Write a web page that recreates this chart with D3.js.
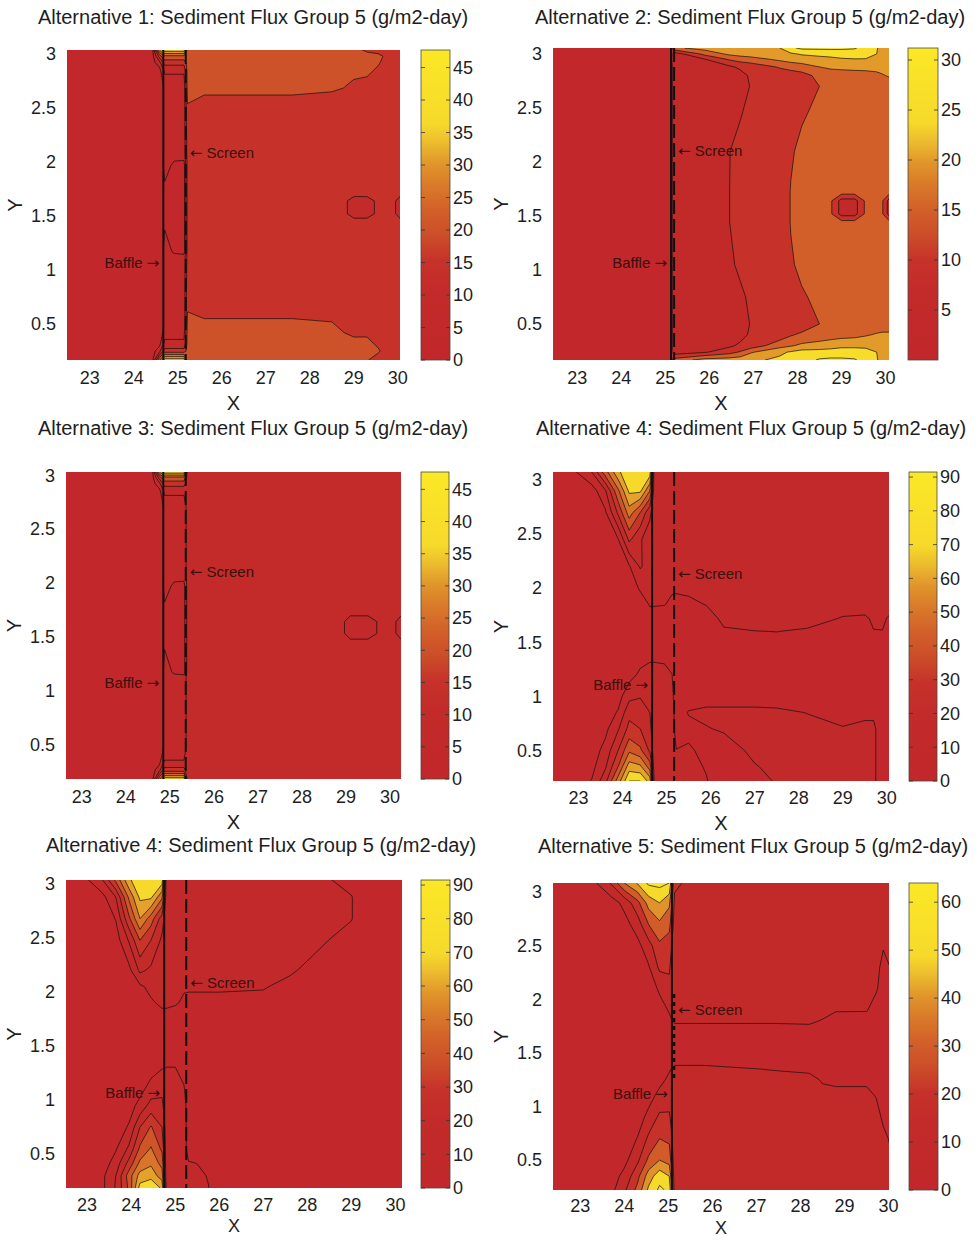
<!DOCTYPE html>
<html>
<head>
<meta charset="utf-8">
<script src="https://cdn.jsdelivr.net/npm/d3@7"></script>
<style>
body { margin: 0; background: #fff; }
svg { display: block; }
text { font-family: "Liberation Sans", Arial, sans-serif; fill: #1e1e1e; }
</style>
</head>
<body>
<svg id="fig" width="976" height="1240"></svg>
<script>
'use strict';

// ---- data: grid columns (x), rows (y, top to bottom), flux (g/m2-day) ----

const alt1X = [22.48, 24.42, 24.58, 24.65, 24.70, 24.92, 25.14, 25.22, 25.6, 27.6, 28.5, 28.78, 29.0, 29.3, 29.55, 29.75, 29.9, 30.05];
const alt1Y = [3.037, 2.98, 2.92, 2.85, 2.7, 2.5, 2.06, 1.97, 1.72, 1.64, 1.52, 1.44, 1.17, 1.12, 0.67, 0.47, 0.32, 0.25, 0.167];
const alt1Z = [
  [3, 3, 30, 36, 38, 38, 38, 22, 22, 22, 22, 22, 22, 19, 17, 17, 17, 17],
  [3, 3, 17, 22, 24, 24, 24, 22, 22, 22, 22, 22, 22, 22, 22, 18.4, 17, 17],
  [3, 3, 8, 14, 17, 17, 17, 22, 22, 22, 22, 22, 22, 22, 21, 17, 17, 17],
  [3, 3, 3, 8, 11, 11, 11, 22, 22, 22, 22, 22, 22, 22, 18.7, 17, 17, 17],
  [3, 3, 3, 3, 7, 7, 7, 22, 22, 22, 21, 20.2, 18.5, 17, 17, 17, 17, 17],
  [3, 3, 3, 3, 7, 7, 7, 19.5, 17, 17, 17, 17, 17, 17, 17, 17, 17, 17],
  [3, 3, 3, 3, 7, 7, 7, 17, 17, 17, 17, 17, 17, 17, 17, 17, 17, 17],
  [3, 3, 3, 3, 8, 3.5, 3, 17, 17, 17, 17, 17, 17, 17, 17, 17, 17, 17],
  [3, 3, 3, 3, 3, 3, 3, 17, 17, 17, 17, 17, 17, 17, 17, 17, 17, 17],
  [3, 3, 3, 3, 3, 3, 3, 17, 17, 17, 17, 16, 13, 13, 16, 17, 16, 13],
  [3, 3, 3, 3, 3, 3, 3, 17, 17, 17, 17, 16, 13, 13, 16, 17, 16, 13],
  [3, 3, 3, 3, 4, 3, 3, 17, 17, 17, 17, 17, 17, 17, 17, 17, 17, 17],
  [3, 3, 3, 3, 8, 4, 3, 17, 17, 17, 17, 17, 17, 17, 17, 17, 17, 17],
  [3, 3, 3, 3, 7, 7, 7, 17, 17, 17, 17, 17, 17, 17, 17, 17, 17, 17],
  [3, 3, 3, 3, 7, 7, 7, 19.2, 17, 17, 17, 17, 17, 17, 17, 17, 17, 17],
  [3, 3, 3, 3, 7, 7, 7, 22, 22, 22, 21, 19, 17, 17, 17, 17, 17, 17],
  [3, 3, 3, 8, 11, 11, 11, 22, 22, 22, 22, 22, 22, 22, 18.7, 17, 17, 17],
  [3, 3, 8, 14, 17, 17, 17, 22, 22, 22, 22, 22, 22, 22, 21, 17, 17, 17],
  [3, 3, 24, 30, 38, 38, 38, 22, 22, 22, 22, 22, 22, 20.5, 17, 17, 17, 17]
];

const alt2X = [22.45, 25.10, 25.22, 25.9, 26.45, 26.7, 26.95, 27.6, 27.85, 28.1, 28.5, 28.75, 29.0, 29.3, 29.55, 29.8, 29.92, 30.08];
const alt2Y = [3.055, 3.0, 2.95, 2.88, 2.8, 2.7, 2.45, 2.1, 1.72, 1.64, 1.52, 1.44, 1.05, 0.75, 0.5, 0.4, 0.3, 0.24, 0.167];
const alt2Z = [
  [3, 3, 19, 22, 22.5, 23, 23.5, 25, 29, 31, 31, 31, 31, 30.5, 28, 25.5, 23, 22],
  [3, 3, 7.5, 16.5, 21, 22, 22.5, 23.5, 24.3, 25.5, 26.5, 27, 27, 27, 26.5, 25, 23, 22],
  [3, 3, 8, 9.8, 15.5, 17, 18, 21, 22, 22.5, 23, 23.5, 24.5, 24.8, 24.8, 23.5, 22, 22],
  [3, 3, 7, 8, 9, 11, 12, 15.5, 17, 18, 20, 21, 21.5, 22, 22, 22, 22, 22],
  [3, 3, 7, 7, 7, 8, 11, 12, 12, 13, 16.5, 17, 17, 17, 17.5, 18.5, 19.5, 20.5],
  [3, 3, 7, 7, 7, 7, 10.5, 12, 12, 12, 15, 17, 17, 17, 17, 17, 17, 17],
  [3, 3, 7, 7, 7, 9.5, 12, 12, 12, 14.5, 16, 17, 17, 17, 17, 17, 17, 17],
  [3, 3, 7, 7, 9.8, 12, 12, 12, 14.5, 16, 17, 17, 17, 17, 17, 17, 17, 17],
  [3, 3, 7, 7, 9.9, 12, 12, 12, 15.2, 17, 17, 17, 17, 17, 17, 17, 17, 17],
  [3, 3, 7, 7, 9.9, 12, 12, 12, 15.2, 17, 17, 16, 8, 8, 16, 17, 16, 8],
  [3, 3, 7, 7, 9.9, 12, 12, 12, 15.2, 17, 17, 16, 8, 8, 16, 17, 16, 8],
  [3, 3, 7, 7, 9.9, 12, 12, 12, 15.2, 17, 17, 17, 17, 17, 17, 17, 17, 17],
  [3, 3, 7, 7, 9, 11, 12, 12, 14.5, 16, 17, 17, 17, 17, 17, 17, 17, 17],
  [3, 3, 7, 7, 7, 9, 11, 12, 12, 14.5, 16, 17, 17, 17, 17, 17, 17, 17],
  [3, 3, 7, 7, 7, 7, 10.5, 12, 12, 12, 15, 17, 17, 17, 17, 17, 17, 17],
  [3, 3, 7, 7, 7, 8, 11, 12, 14.5, 16, 17, 17.5, 18, 18.5, 19.5, 20.5, 21, 21],
  [3, 3, 7, 8, 9, 11, 12, 18, 19.5, 21, 22, 23, 24, 24, 24, 23, 22, 22],
  [3, 3, 7.5, 9.5, 13, 15.5, 19.5, 24, 25.5, 27, 27, 27, 27, 27, 26.5, 25, 23, 22],
  [3, 3, 17, 22, 22.5, 23, 24, 26, 27, 28, 30.5, 31, 31, 30.5, 28, 25.5, 23, 22]
];

const alt3X = [22.64, 24.60, 24.76, 24.83, 24.88, 25.10, 25.32, 25.40, 26.5, 28.9, 29.1, 29.5, 29.8, 30.0, 30.12, 30.25];
const alt3Y = [3.03, 2.98, 2.92, 2.85, 2.7, 2.06, 1.97, 1.72, 1.64, 1.53, 1.45, 1.17, 1.12, 0.47, 0.34, 0.26, 0.177];
const alt3Z = [
  [3, 3, 30, 36, 38, 38, 38, 12, 12, 12, 12, 12, 12, 12, 12, 12],
  [3, 3, 17, 22, 24, 24, 24, 12, 12, 12, 12, 12, 12, 12, 12, 12],
  [3, 3, 8, 14, 17, 17, 17, 12, 12, 12, 12, 12, 12, 12, 12, 12],
  [3, 3, 3, 8, 11, 11, 11, 12, 12, 12, 12, 12, 12, 12, 12, 12],
  [3, 3, 3, 3, 7, 7, 7, 12, 12, 12, 12, 12, 12, 12, 12, 12],
  [3, 3, 3, 3, 7, 7, 7, 12, 12, 12, 12, 12, 12, 12, 12, 12],
  [3, 3, 3, 3, 8, 3.5, 3, 12, 12, 12, 12, 12, 12, 12, 12, 12],
  [3, 3, 3, 3, 3, 3, 3, 12, 12, 12, 12, 12, 12, 12, 12, 12],
  [3, 3, 3, 3, 3, 3, 3, 12, 12, 12, 6, 6, 12, 12, 10.5, 6],
  [3, 3, 3, 3, 3, 3, 3, 12, 12, 12, 6, 6, 12, 12, 10.5, 6],
  [3, 3, 3, 3, 4, 3, 3, 12, 12, 12, 12, 12, 12, 12, 12, 12],
  [3, 3, 3, 3, 8, 4, 3, 12, 12, 12, 12, 12, 12, 12, 12, 12],
  [3, 3, 3, 3, 7, 7, 7, 12, 12, 12, 12, 12, 12, 12, 12, 12],
  [3, 3, 3, 3, 7, 7, 7, 12, 12, 12, 12, 12, 12, 12, 12, 12],
  [3, 3, 3, 8, 10.3, 10.3, 10.3, 12, 12, 12, 12, 12, 12, 12, 12, 12],
  [3, 3, 8, 14, 17, 17, 17, 12, 12, 12, 12, 12, 12, 12, 12, 12],
  [3, 3, 24, 30, 38, 38, 38, 12, 12, 12, 12, 12, 12, 12, 12, 12]
];

const alt4X = [22.42, 22.9, 23.3, 23.6, 23.9, 24.15, 24.4, 24.62, 24.72, 24.95, 25.12, 25.22, 25.5, 25.9, 26.3, 27.0, 27.5, 28.2, 29.0, 29.5, 29.7, 29.9, 30.05];
const alt4Y = [3.075, 2.9, 2.7, 2.45, 2.2, 2.0, 1.85, 1.72, 1.6, 1.4, 1.2, 1.0, 0.85, 0.7, 0.5, 0.35, 0.216];
const alt4Z = [
  [3, 8.5, 20, 45, 68, 78, 80, 76, 14, 14, 14, 14, 14, 14, 14, 14, 14, 14, 14, 14, 14, 14, 14],
  [3, 3, 5, 18, 48, 72, 72, 50, 14, 14, 14, 14, 14, 14, 14, 14, 14, 14, 14, 14, 14, 14, 14],
  [3, 3, 3, 8, 32, 55, 40, 22, 14, 14, 14, 14, 14, 14, 14, 14, 14, 14, 14, 14, 14, 14, 14],
  [3, 3, 3, 3, 9.5, 32, 21, 15, 14, 14, 14, 14, 14, 14, 14, 14, 14, 14, 14, 14, 14, 14, 14],
  [3, 3, 3, 3, 3, 9, 21, 16, 14, 14, 14, 14, 14, 14, 14, 14, 14, 14, 14, 14, 14, 14, 14],
  [3, 3, 3, 3, 3, 3, 11.5, 13, 14, 13, 11, 11, 12, 14, 14, 14, 14, 14, 14, 14, 14, 14, 14],
  [3, 3, 3, 3, 3, 3, 4, 10.8, 10.5, 10.3, 8.5, 8, 8, 10.3, 14, 14, 14, 14, 13, 13, 14, 14, 12],
  [3, 3, 3, 3, 3, 3, 3, 6, 7, 6, 5, 6, 6, 6, 12, 14, 14, 13, 9.5, 9, 11, 10.8, 9.5],
  [3, 3, 3, 3, 3, 3, 3, 3, 6, 6, 6, 6, 6, 6, 9, 9.8, 10.1, 9, 6, 6, 9.8, 9.9, 6],
  [3, 3, 3, 3, 3, 3, 5, 7, 7, 7, 6, 6, 6, 6, 6, 6, 6, 6, 6, 6, 6, 6, 6],
  [3, 3, 3, 3, 3, 6, 12, 14, 14, 13, 10.2, 6, 6, 6, 6, 6, 6, 6, 6, 6, 6, 6, 6],
  [3, 3, 3, 3, 6, 17, 19, 16, 14, 14, 12, 6, 6, 6, 6, 6, 6, 6, 6, 6, 6, 6, 6],
  [3, 3, 3, 4, 11, 27, 28, 20, 14, 14, 14, 6, 10.5, 12, 12, 12, 11.5, 9.8, 7, 8, 9, 7, 6],
  [3, 3, 3, 7, 19, 33, 30, 22, 14, 14, 14, 6, 8, 9.5, 11, 12, 12, 12, 10.5, 12, 11, 7, 6],
  [3, 3, 5, 13, 30, 48, 42, 28, 14, 14, 14, 10.2, 11, 8, 6, 12, 12, 12, 12, 12, 11, 7, 6],
  [3, 3, 7, 18, 40, 65, 62, 45, 15, 14, 14, 12, 12, 9.5, 6, 9.5, 12, 12, 12, 12, 11, 7, 6],
  [3, 4, 10.5, 26, 55, 80, 80, 66, 18, 15, 14, 12, 12, 10.4, 6, 6, 11, 12, 12, 12, 11, 7, 6]
];

const alt5X = [22.52, 23.0, 23.35, 23.65, 23.95, 24.2, 24.45, 24.7, 24.8, 25.0, 25.2, 25.3, 25.5, 25.75, 26.0, 27.0, 27.6, 28.45, 29.0, 29.2, 30.15];
const alt5Y = [3.038, 2.88, 2.68, 2.48, 2.2, 2.05, 1.9, 1.8, 1.5, 1.3, 1.1, 0.95, 0.75, 0.55, 0.42, 0.3, 0.187];
const alt5Z = [
  [3, 9, 20, 42, 68, 78, 80, 76, 14, 14, 14, 14, 14, 14, 14, 14, 14, 11, 6, 6, 6],
  [3, 3, 7, 20, 52, 72, 72, 52, 14, 14, 14, 14, 14, 14, 14, 14, 14, 14, 10.5, 6, 6],
  [3, 3, 3, 10.5, 38, 60, 45, 25, 14, 14, 14, 14, 14, 14, 14, 14, 14, 14, 10.5, 6, 6],
  [3, 3, 3, 5, 21, 40, 30, 18, 14, 14, 14, 14, 14, 14, 14, 14, 14, 10.2, 6, 6, 6],
  [3, 3, 3, 3, 7, 22, 18, 14, 14, 14, 14, 14, 14, 14, 14, 14, 11, 6, 6, 6, 6],
  [3, 3, 3, 3, 3, 8, 13, 13, 13, 13, 11, 11, 11, 11, 11, 10.5, 8, 6, 6, 6, 6],
  [3, 3, 3, 3, 3, 3, 8.5, 12, 12, 11, 8.5, 8, 8, 8, 8, 8, 6, 6, 6, 6, 6],
  [3, 3, 3, 3, 3, 3, 5, 8, 8, 7, 6, 6, 6, 6, 6, 6, 6, 6, 6, 6, 6],
  [3, 3, 3, 3, 3, 3, 3, 3, 6, 6, 6, 6, 6, 6, 6, 6, 6, 6, 6, 6, 6],
  [3, 3, 3, 3, 3, 3, 6, 9.5, 10.1, 10.1, 8, 6, 6, 6, 6, 6, 6, 6, 6, 6, 6],
  [3, 3, 3, 3, 3, 7, 14, 18, 13, 13, 10.5, 6, 6, 6, 6, 6, 6, 6, 6, 6, 6],
  [3, 3, 3, 3, 6, 13, 24, 22, 14, 14, 13, 6, 6, 6, 6, 6, 6, 6, 6, 6, 6],
  [3, 3, 3, 5, 11, 30, 41, 30, 14, 14, 14, 6, 6, 6, 6, 6, 6, 6, 6, 6, 6],
  [3, 3, 3, 9, 22, 42, 51, 38, 14, 14, 14, 6, 6, 6, 6, 6, 6, 6, 6, 6, 6],
  [3, 3, 5, 14, 33, 52, 58, 46, 14, 14, 14, 10.5, 9.8, 6, 6, 6, 6, 6, 6, 6, 6],
  [3, 3, 8, 20, 45, 64, 66, 55, 14, 14, 14, 12, 12, 9.5, 6, 6, 6, 6, 6, 6, 6],
  [3, 3, 8, 21, 42, 74, 80, 68, 16, 16, 16, 12, 12, 10.3, 6, 6, 6, 6, 6, 6, 6]
];

const alt6X = [22.38, 23.0, 23.4, 23.7, 24.0, 24.3, 24.55, 24.8, 25.02, 25.14, 25.8, 27.4, 28.2, 28.5, 28.8, 29.5, 29.72, 29.88, 30.01];
const alt6Y = [3.085, 2.9, 2.7, 2.5, 2.3, 2.1, 1.9, 1.8, 1.7, 1.45, 1.35, 1.25, 1.1, 0.9, 0.7, 0.5, 0.35, 0.221];
const alt6Z = [
  [3, 3, 10.5, 21, 40, 51, 62, 63, 60, 22, 14, 14, 14, 14, 14, 14, 14, 14, 14],
  [3, 3, 3, 5, 13, 27, 44, 50, 42, 18, 14, 14, 14, 14, 14, 14, 14, 14, 14],
  [3, 3, 3, 3, 6, 15, 30, 38, 33, 16, 14, 14, 14, 14, 14, 14, 14, 14, 14],
  [3, 3, 3, 3, 3, 7, 16, 28, 25, 14, 14, 14, 14, 14, 14, 14, 14, 11, 14],
  [3, 3, 3, 3, 3, 3, 9, 22, 21, 14, 14, 14, 14, 14, 14, 14, 14, 6, 9.5],
  [3, 3, 3, 3, 3, 3, 3, 12, 18, 14, 14, 14, 14, 14, 14, 14, 11, 6, 6],
  [3, 3, 3, 3, 3, 3, 3, 5, 11, 14, 14, 14, 14, 13, 10.8, 10.6, 6, 6, 6],
  [3, 3, 3, 3, 3, 3, 3, 3, 8, 11, 11, 11, 11.5, 9.5, 6, 6, 6, 6, 6],
  [3, 3, 3, 3, 3, 3, 3, 3, 5, 7, 7, 7, 7, 6, 6, 6, 6, 6, 6],
  [3, 3, 3, 3, 3, 3, 3, 3, 5, 6, 6, 6, 6, 6, 6, 6, 6, 6, 6],
  [3, 3, 3, 3, 3, 3, 3, 5, 9, 12, 12, 9.5, 8, 6, 6, 6, 6, 6, 6],
  [3, 3, 3, 3, 3, 3, 3, 7, 12, 14, 14, 13, 13, 9, 8.5, 8.5, 6, 6, 6],
  [3, 3, 3, 3, 3, 3, 6, 13, 17, 14, 14, 14, 14, 13, 12, 12, 9.6, 6, 6],
  [3, 3, 3, 3, 3, 5, 13, 22, 21, 14, 14, 14, 14, 14, 14, 14, 13, 8.5, 6],
  [3, 3, 3, 3, 3, 10.5, 22, 30, 28, 14, 14, 14, 14, 14, 14, 14, 14, 12, 9.7],
  [3, 3, 3, 3, 7, 18, 32, 40, 36, 14, 14, 14, 14, 14, 14, 14, 14, 14, 12],
  [3, 3, 3, 5, 13, 27, 45, 56, 50, 14, 14, 14, 14, 14, 14, 14, 14, 14, 14],
  [3, 3, 3, 7, 18, 33, 52, 62, 58, 16, 14, 14, 14, 14, 14, 14, 14, 14, 14]
];

const titles = [
  'Alternative 1: Sediment Flux Group 5 (g/m2-day)',
  'Alternative 2: Sediment Flux Group 5 (g/m2-day)',
  'Alternative 3: Sediment Flux Group 5 (g/m2-day)',
  'Alternative 4: Sediment Flux Group 5 (g/m2-day)',
  'Alternative 4: Sediment Flux Group 5 (g/m2-day)',
  'Alternative 5: Sediment Flux Group 5 (g/m2-day)'
];
const baffleX = [24.67, 25.13, 24.85, 24.67, 24.75, 25.08];
const screenX = [25.18, 25.20, 25.36, 25.17, 25.25, 25.13];
const screenSpan = [null, null, null, null, null, [1.25, 2.05]];
const baffleLabelY = [1.065, 1.065, 1.07, 1.11, 1.07, 1.12];
const screenLabelY = [2.09, 2.1, 2.1, 2.13, 2.09, 1.9];
const fluxMax = [47.7, 31.2, 47.7, 91.5, 91.5, 64];
const levelStep = [5, 5, 5, 10, 10, 10];
const xTicks = [23, 24, 25, 26, 27, 28, 29, 30];
const yTicks = [0.5, 1, 1.5, 2, 2.5, 3];
const cbarTicks = [
  [0, 5, 10, 15, 20, 25, 30, 35, 40, 45],
  [5, 10, 15, 20, 25, 30],
  [0, 5, 10, 15, 20, 25, 30, 35, 40, 45],
  [0, 10, 20, 30, 40, 50, 60, 70, 80, 90],
  [0, 10, 20, 30, 40, 50, 60, 70, 80, 90],
  [0, 10, 20, 30, 40, 50, 60]
];

const gridX = [alt1X, alt2X, alt3X, alt4X, alt5X, alt6X];
const gridY = [alt1Y, alt2Y, alt3Y, alt4Y, alt5Y, alt6Y];
const gridZ = [alt1Z, alt2Z, alt3Z, alt4Z, alt5Z, alt6Z];

// ---- layout ----
const frames = [
  {plot: [67, 50, 400, 360], cbar: [421, 450], xDom: [22.48, 30.05], yDom: [0.167, 3.037], title: [253, 17], tickOff: 18, xLab: 43, xLabSize: 20},
  {plot: [553, 48, 889, 360], cbar: [908, 938], xDom: [22.45, 30.08], yDom: [0.167, 3.055], title: [750, 17], tickOff: 18, xLab: 43, xLabSize: 20},
  {plot: [66, 472, 401, 779], cbar: [421, 449], xDom: [22.64, 30.25], yDom: [0.177, 3.03], title: [253, 428], tickOff: 18, xLab: 43, xLabSize: 20},
  {plot: [553, 472, 889, 781], cbar: [909, 937], xDom: [22.42, 30.05], yDom: [0.216, 3.075], title: [751, 428], tickOff: 17, xLab: 42, xLabSize: 20},
  {plot: [66, 880, 402, 1188], cbar: [421, 450], xDom: [22.52, 30.15], yDom: [0.187, 3.038], title: [261, 845], tickOff: 17, xLab: 38, xLabSize: 18},
  {plot: [553, 883, 889, 1190], cbar: [909, 938], xDom: [22.38, 30.01], yDom: [0.221, 3.085], title: [753, 846], tickOff: 16, xLab: 38, xLabSize: 18}
];

// red -> orange -> yellow map, as in the colour bars
const cmapStops = [[0, '#c1272b'], [0.22, '#c32b2a'], [0.32, '#c6322a'], [0.40, '#cc4d29'],
                   [0.48, '#d25f29'], [0.56, '#d9792a'], [0.63, '#e0942b'], [0.70, '#ecbb2e'],
                   [0.76, '#f6d92b'], [1, '#fbe826']];
const cmap = d3.scaleLinear()
               .domain(cmapStops.map(d => d[0]))
               .range(cmapStops.map(d => d[1]))
               .interpolate(d3.interpolateRgb)
               .clamp(true);

const svg = d3.select('#fig');
const defs = svg.append('defs');

for (let k = 0; k < frames.length; k++) {
    drawPanel(k);
}

function drawPanel(k) {
    const f = frames[k];
    const [left, top, right, bottom] = f.plot;
    const xs = gridX[k], ys = gridY[k], rows = gridZ[k];
    const n = xs.length, m = ys.length;

    const x = d3.scaleLinear().domain(f.xDom).range([left, right]);
    const y = d3.scaleLinear().domain(f.yDom).range([bottom, top]);
    // grid index -> data coordinate (non-uniform spacing)
    const col = d3.scaleLinear().domain(d3.range(n)).range(xs);
    const row = d3.scaleLinear().domain(d3.range(m)).range(ys);
    const path = d3.geoPath(d3.geoTransform({
        point: function(px, py) {
            this.stream.point(x(col(px - 0.5)), y(row(py - 0.5)));
        }
    }));

    const levels = d3.range(0, fluxMax[k], levelStep[k]);
    const bands = d3.contours().size([n, m]).thresholds(levels)(rows.flat());

    defs.append('clipPath')
        .attr('id', 'clip' + k)
        .append('rect')
        .attr('x', left).attr('y', top)
        .attr('width', right - left).attr('height', bottom - top);

    const g = svg.append('g').attr('clip-path', 'url(#clip' + k + ')');

    g.selectAll('path.band')
     .data(bands)
     .join('path')
     .attr('class', 'band')
     .attr('d', path)
     .attr('fill', d => cmap(d.value / fluxMax[k]));

    g.selectAll('path.iso')
     .data(bands.slice(1))
     .join('path')
     .attr('class', 'iso')
     .attr('d', path)
     .attr('fill', 'none')
     .attr('stroke', '#161010')
     .attr('stroke-width', 0.7);

    // baffle and screen
    g.append('line')
     .attr('x1', x(baffleX[k])).attr('x2', x(baffleX[k]))
     .attr('y1', top).attr('y2', bottom)
     .attr('stroke', '#111').attr('stroke-width', 2);

    const span = screenSpan[k];
    g.append('line')
     .attr('x1', x(screenX[k])).attr('x2', x(screenX[k]))
     .attr('y1', span ? y(span[1]) : top)
     .attr('y2', span ? y(span[0]) : bottom)
     .attr('stroke', '#111')
     .attr('stroke-width', span ? 2.5 : 2)
     .attr('stroke-dasharray', span ? '4,4' : '14,5');

    const bl = svg.append('text')
                  .attr('x', x(baffleX[k]) - 4)
                  .attr('y', y(baffleLabelY[k]))
                  .attr('dy', '0.35em')
                  .attr('text-anchor', 'end')
                  .style('font-size', '15px')
                  .style('fill', '#3a100c');
    bl.append('tspan').text('Baffle ');
    bl.append('tspan').style('font-family', '"DejaVu Sans"').style('font-size', '15px').text('\u2192');

    const sl = svg.append('text')
                  .attr('x', x(screenX[k]) + 4)
                  .attr('y', y(screenLabelY[k]))
                  .attr('dy', '0.35em')
                  .attr('text-anchor', 'start')
                  .style('font-size', '15px')
                  .style('fill', '#3a100c');
    sl.append('tspan').style('font-family', '"DejaVu Sans"').style('font-size', '15px').text('\u2190');
    sl.append('tspan').text(' Screen');

    // tick labels
    svg.append('g')
       .selectAll('text')
       .data(xTicks)
       .join('text')
       .attr('x', d => x(d))
       .attr('y', bottom + f.tickOff)
       .attr('dy', '0.35em')
       .attr('text-anchor', 'middle')
       .style('font-size', '18px')
       .text(d => d);

    svg.append('g')
       .selectAll('text')
       .data(yTicks)
       .join('text')
       .attr('x', left - 11)
       .attr('y', d => y(d))
       .attr('dy', '0.35em')
       .attr('text-anchor', 'end')
       .style('font-size', '18px')
       .text(d => d);

    svg.append('text')
       .attr('x', (left + right) / 2)
       .attr('y', bottom + f.xLab)
       .attr('dy', '0.35em')
       .attr('text-anchor', 'middle')
       .style('font-size', f.xLabSize + 'px')
       .text('X');

    svg.append('text')
       .attr('transform', 'translate(' + (left - 52) + ',' + ((top + bottom) / 2) + ') rotate(-90)')
       .attr('dy', '0.35em')
       .attr('text-anchor', 'middle')
       .style('font-size', '20px')
       .text('Y');

    svg.append('text')
       .attr('x', f.title[0])
       .attr('y', f.title[1])
       .attr('dy', '0.35em')
       .attr('text-anchor', 'middle')
       .style('font-size', '20px')
       .text(titles[k]);

    drawColorbar(k, top, bottom);
}

function drawColorbar(k, top, bottom) {
    const [c0, c1] = frames[k].cbar;
    const grad = defs.append('linearGradient')
                     .attr('id', 'cg' + k)
                     .attr('x1', 0).attr('y1', 1)
                     .attr('x2', 0).attr('y2', 0);
    grad.selectAll('stop')
        .data(cmapStops)
        .join('stop')
        .attr('offset', d => d[0])
        .attr('stop-color', d => d[1]);

    svg.append('rect')
       .attr('x', c0).attr('y', top)
       .attr('width', c1 - c0).attr('height', bottom - top)
       .attr('fill', 'url(#cg' + k + ')')
       .attr('stroke', '#4a4a40')
       .attr('stroke-width', 0.8);

    const c = d3.scaleLinear().domain([0, fluxMax[k]]).range([bottom, top]);
    const g = svg.append('g');
    cbarTicks[k].forEach(function(t) {
        g.append('line')
         .attr('x1', c0).attr('x2', c0 + 4)
         .attr('y1', c(t)).attr('y2', c(t))
         .attr('stroke', '#333').attr('stroke-width', 0.8);
        g.append('line')
         .attr('x1', c1 - 4).attr('x2', c1)
         .attr('y1', c(t)).attr('y2', c(t))
         .attr('stroke', '#333').attr('stroke-width', 0.8);
        g.append('text')
         .attr('x', c1 + 3)
         .attr('y', c(t))
         .attr('dy', '0.35em')
         .attr('text-anchor', 'start')
         .style('font-size', '18px')
         .text(t);
    });
}
</script>
</body>
</html>
